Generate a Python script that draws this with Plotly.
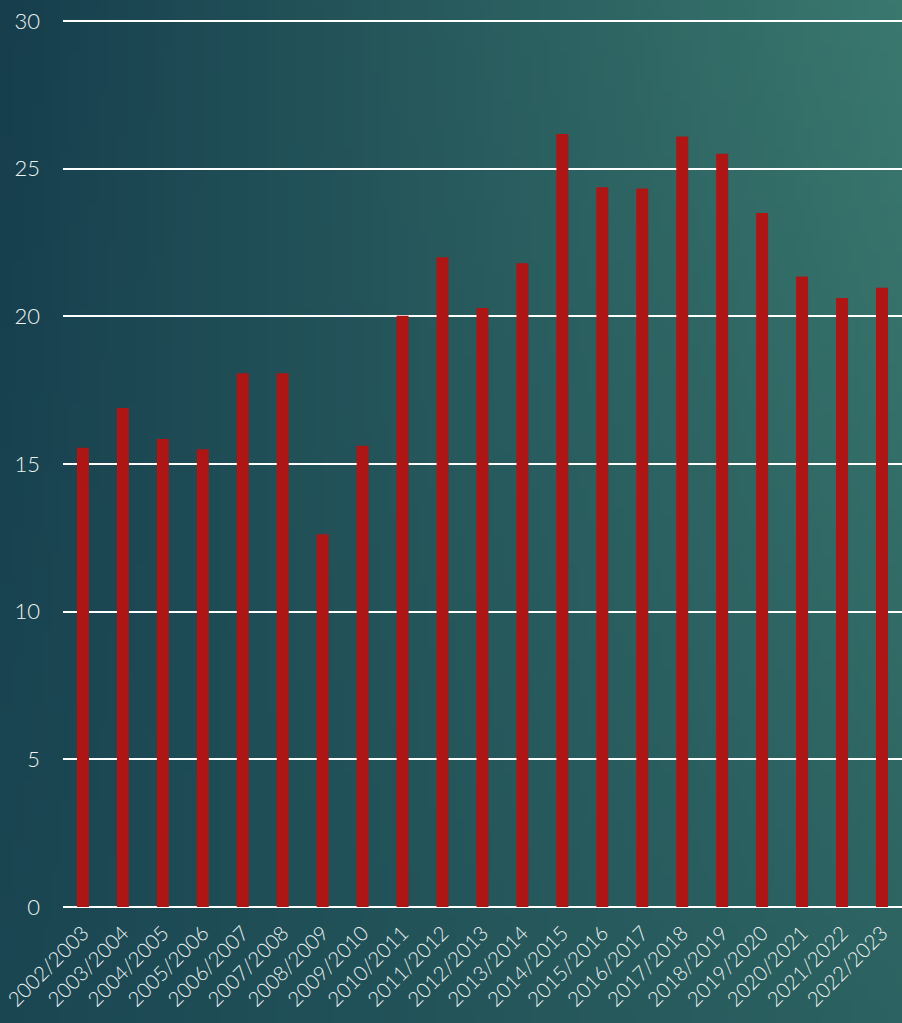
import base64
import struct
import zlib

import plotly.graph_objects as go

# Seasons and values
seasons = [
    "2002/2003", "2003/2004", "2004/2005", "2005/2006", "2006/2007",
    "2007/2008", "2008/2009", "2009/2010", "2010/2011", "2011/2012",
    "2012/2013", "2013/2014", "2014/2015", "2015/2016", "2016/2017",
    "2017/2018", "2018/2019", "2019/2020", "2020/2021", "2021/2022",
    "2022/2023",
]
values = [
    15.55, 16.9, 15.85, 15.5, 18.07,
    18.07, 12.62, 15.62, 20.02, 22.0,
    20.28, 21.8, 26.18, 24.37, 24.33,
    26.09, 25.51, 23.5, 21.35, 20.62,
    20.97,
]
y_ticks = [0, 5, 10, 15, 20, 25, 30]
y_max = 30.07

W, H = 902, 1023
ML, MR, MT, MB = 63, 0, 19, 116
PW, PH = W - ML - MR, H - MT - MB


def gradient_png(w, h):
    """Small PNG with a bilinear teal gradient used as page background."""
    tl, tr = (22, 62, 77), (58, 120, 110)
    bl, br = (26, 70, 82), (44, 98, 97)
    rows = []
    for j in range(h):
        v = j / (h - 1)
        row = bytearray([0])
        for i in range(w):
            u = i / (w - 1)
            for c in range(3):
                top = tl[c] + (tr[c] - tl[c]) * u
                bot = bl[c] + (br[c] - bl[c]) * u
                row.append(int(round(top + (bot - top) * v)))
        rows.append(bytes(row))
    raw = b"".join(rows)

    def chunk(tag, data):
        return (struct.pack(">I", len(data)) + tag + data
                + struct.pack(">I", zlib.crc32(tag + data) & 0xFFFFFFFF))

    ihdr = struct.pack(">IIBBBBB", w, h, 8, 2, 0, 0, 0)
    png = (b"\x89PNG\r\n\x1a\n" + chunk(b"IHDR", ihdr)
           + chunk(b"IDAT", zlib.compress(raw, 9)) + chunk(b"IEND", b""))
    return "data:image/png;base64," + base64.b64encode(png).decode()


font_family = "Lato, 'Noto Sans', sans-serif"
text_color = "#eef3f3"
y_tick_font = dict(family=font_family, size=22, color=text_color, weight=300)
x_tick_font = dict(family=font_family, size=20.5, color=text_color, weight=300)

fig = go.Figure(
    go.Bar(
        x=seasons,
        y=values,
        marker=dict(color="#ad1614", line=dict(width=0)),
        hoverinfo="x+y",
    )
)

fig.update_layout(
    width=W,
    height=H,
    margin=dict(l=ML, r=MR, t=MT, b=MB, pad=0, autoexpand=False),
    paper_bgcolor="#25565f",
    plot_bgcolor="rgba(0,0,0,0)",
    bargap=0.7,
    showlegend=False,
    font=dict(family=font_family, size=22, color=text_color),
    images=[
        dict(
            source=gradient_png(96, 108),
            xref="paper", yref="paper",
            x=-ML / PW, y=1 + MT / PH,
            sizex=W / PW, sizey=H / PH,
            xanchor="left", yanchor="top",
            sizing="stretch", layer="below",
        )
    ],
)

fig.update_xaxes(
    type="category",
    tickangle=-45,
    showgrid=False,
    showline=False,
    ticks="",
    tickfont=x_tick_font,
    ticklabelstandoff=9,
    automargin=False,
)

fig.update_yaxes(
    range=[0, y_max],
    tickvals=y_ticks,
    showgrid=True,
    gridcolor="#ffffff",
    gridwidth=2,
    zeroline=True,
    zerolinecolor="#ffffff",
    zerolinewidth=2,
    showline=False,
    ticks="",
    tickfont=y_tick_font,
    ticklabelstandoff=22,
    automargin=False,
)

fig.write_html("out.html")
